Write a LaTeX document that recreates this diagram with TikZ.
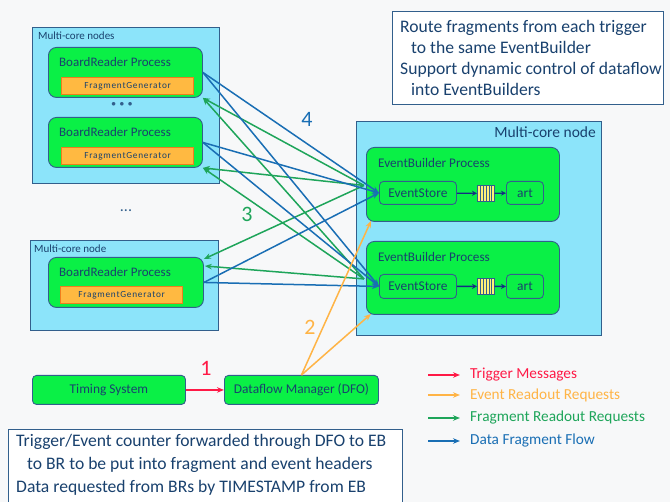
\documentclass[tikz,border=0pt]{standalone}
\usepackage{fontspec}
\setmainfont{Carlito}
\newfontfamily\fgfont[LetterSpace=8]{Carlito}
\usetikzlibrary{arrows.meta,calc}
\definecolor{bg}{RGB}{247,248,249}
\definecolor{boxblue}{RGB}{140,228,250}
\definecolor{edge}{RGB}{50,95,140}
\definecolor{procgreen}{RGB}{10,240,70}
\definecolor{fgfill}{RGB}{255,185,65}
\definecolor{fgedge}{RGB}{240,125,30}
\definecolor{cblue}{RGB}{25,110,180}
\definecolor{cgreen}{RGB}{30,165,90}
\definecolor{corange}{RGB}{255,180,70}
\definecolor{cred}{RGB}{255,25,70}
\definecolor{txt}{RGB}{25,65,110}
\definecolor{qyellow}{RGB}{255,240,120}
\definecolor{qarrow}{RGB}{20,45,130}
\begin{document}
\begin{tikzpicture}[x=1pt,y=-1pt,
  hostbox/.style={draw=edge, fill=boxblue, line width=0.9pt, anchor=north west, inner sep=0pt},
  proc/.style={draw=edge, fill=procgreen, rounded corners=8pt, line width=0.9pt, anchor=north west, inner sep=0pt},
  smallproc/.style={draw=edge, fill=procgreen, rounded corners=4pt, line width=0.9pt, anchor=north west, inner sep=0pt, text=txt, font=\fontsize{13.4}{15}\selectfont},
  fgen/.style={draw=fgedge, fill=fgfill, line width=1.2pt, anchor=north west, inner sep=0pt, minimum width=132pt, minimum height=17pt, text=txt, font=\fgfont\fontsize{9.3}{10}\selectfont},
  lbl/.style={inner sep=0pt, text=txt},
  infobox/.style={draw=edge, fill=white, line width=0.9pt, anchor=north west, inner sep=0pt},
  infotext/.style={inner sep=0pt, anchor=north west, align=left, text=txt},
  tip/.style={-{Stealth[length=7pt,width=5.5pt]}},
  flowb/.style={tip, draw=cblue, line width=1.5pt},
  flowg/.style={tip, draw=cgreen, line width=1.5pt},
  flowo/.style={tip, draw=corange, line width=1.5pt},
  flowr/.style={tip, draw=cred, line width=1.5pt},
  qarr/.style={-{Stealth[length=5pt,width=5pt]}, draw=qarrow, line width=1.3pt},
  numlbl/.style={inner sep=0pt, font=\fontsize{22}{24}\selectfont},
  legtext/.style={inner sep=0pt, anchor=west, font=\fontsize{15.3}{17}\selectfont}
]
\useasboundingbox (0,0) rectangle (670,502);
\fill[bg] (0,0) rectangle (670,502);

% ---- left host boxes
\node[hostbox, minimum width=187pt, minimum height=156pt] (hostA) at (32,27) {};
\node[lbl, anchor=west, font=\fontsize{11}{12}\selectfont] (hostAl) at (38,36) {Multi-core nodes};
\node[proc, minimum width=154pt, minimum height=50pt] (br1) at (48,47) {};
\node[lbl, font=\fontsize{13}{14}\selectfont] (br1l) at (115,62) {BoardReader Process};
\node[fgen] (fg1) at (61,77) {FragmentGenerator};
\node[lbl, text=edge, font=\fontsize{9}{10}\selectfont] (dots1) at (122,104) {$\bullet\,\bullet\,\bullet$};
\node[proc, minimum width=154pt, minimum height=50pt] (br2) at (48,117) {};
\node[lbl, font=\fontsize{13}{14}\selectfont] (br2l) at (115,132) {BoardReader Process};
\node[fgen] (fg2) at (61,147) {FragmentGenerator};

\node[lbl, text=edge, font=\fontsize{16}{16}\selectfont] (dots2) at (126,211) {...};

\node[hostbox, minimum width=188pt, minimum height=90pt] (hostB) at (30,240) {};
\node[lbl, anchor=west, font=\fontsize{11}{12}\selectfont] (hostBl) at (34,249) {Multi-core node};
\node[proc, minimum width=155pt, minimum height=50pt] (br3) at (48,257) {};
\node[lbl, font=\fontsize{13}{14}\selectfont] (br3l) at (115,272) {BoardReader Process};
\node[fgen, minimum width=122pt] (fg3) at (60,286) {FragmentGenerator};

% ---- right host box
\node[hostbox, minimum width=245pt, minimum height=214pt] (hostC) at (356,121) {};
\node[lbl, anchor=east, font=\fontsize{15.5}{17}\selectfont] (hostCl) at (596,132) {Multi-core node};

\node[proc, minimum width=193pt, minimum height=74pt] (eb1) at (366,147) {};
\node[lbl, anchor=west, font=\fontsize{13.2}{14}\selectfont] (eb1l) at (378,163) {EventBuilder Process};
\node[smallproc, minimum width=77pt, minimum height=23pt] (es1) at (379,181) {EventStore};
\node[draw=edge, fill=qyellow, line width=0.7pt, anchor=north west, inner sep=0pt, minimum width=17pt, minimum height=16pt] (q1) at (477,185) {};
\node[smallproc, minimum width=37pt, minimum height=23pt] (art1) at (506,181) {art};

\node[proc, minimum width=193pt, minimum height=73pt] (eb2) at (366,241) {};
\node[lbl, anchor=west, font=\fontsize{13.2}{14}\selectfont] (eb2l) at (378,257) {EventBuilder Process};
\node[smallproc, minimum width=77pt, minimum height=24pt] (es2) at (379,274) {EventStore};
\node[draw=edge, fill=qyellow, line width=0.7pt, anchor=north west, inner sep=0pt, minimum width=17pt, minimum height=16pt] (q2) at (477,278) {};
\node[smallproc, minimum width=37pt, minimum height=24pt] (art2) at (506,274) {art};

\foreach \q in {q1,q2}{
  \foreach \k in {1,...,5}{
    \draw[edge, line width=0.6pt] ($(\q.north west)!\k/6!(\q.north east)$) -- ($(\q.south west)!\k/6!(\q.south east)$);
  }
}
\draw[qarr] (es1) -- (q1);
\draw[qarr] (q1) -- (art1);
\draw[qarr] (es2) -- (q2);
\draw[qarr] (q2) -- (art2);

% ---- timing and DFO
\node[smallproc, minimum width=153pt, minimum height=29pt] (timing) at (32,375) {Timing System};
\node[smallproc, minimum width=154pt, minimum height=29pt] (dfo) at (224,375) {Dataflow Manager (DFO)};

% ---- info boxes
\node[infobox, minimum width=271pt, minimum height=93pt] (info1) at (392,11) {};
\node[infotext, font=\fontsize{17.6}{21}\selectfont] (info1t) at (400,20) {Route fragments from each trigger\\\hspace*{11pt}to the same EventBuilder\\Support dynamic control of dataflow\\\hspace*{11pt}into EventBuilders};
\node[infobox, minimum width=394pt, minimum height=80pt] (info2) at (8,429) {};
\node[infotext, font=\fontsize{17.6}{23}\selectfont] (info2t) at (16,434) {Trigger/Event counter forwarded through DFO to EB\\\hspace*{11pt}to BR to be put into fragment and event headers\\Data requested from BRs by TIMESTAMP from EB};

% ---- connectors
\coordinate (g1s) at ($(eb1.west)+(-2,1)$);
\coordinate (g2s) at ($(eb2.west)+(-2,1)$);
% green: fragment readout requests (EB -> BR)
\draw[flowg] (g1s) -- (br1.south east);
\draw[flowg] (g2s) -- (br1.south east);
\draw[flowg] (g1s) -- (br2.south east);
\draw[flowg] (g2s) -- (br2.south east);
\draw[flowg] (g1s) -- ($(br3.north east)+(0,2)$);
\draw[flowg] (g2s) -- ($(br3.north east)+(1,9)$);
% blue: data fragment flow (BR -> EB)
\draw[flowb] (br1.east) -- (es1.west);
\draw[flowb] (br1.east) -- (es2.west);
\draw[flowb] (br2.east) -- (es1.west);
\draw[flowb] (br2.east) -- (es2.west);
\draw[flowb] (br3.east) -- (es1.west);
\draw[flowb] (br3.east) -- (es2.west);
% orange: event readout requests (DFO -> EB)
\draw[flowo] (dfo.north) -- ($(eb1.south west)+(5,-1)$);
\draw[flowo] (dfo.north) -- ($(eb2.south west)+(5,-1)$);
% red: trigger
\draw[flowr] (timing) -- (dfo);

\node[numlbl, text=cblue] (n4) at (307,119) {4};
\node[numlbl, text=cgreen] (n3) at (247,214) {3};
\node[numlbl, text=corange] (n2) at (310,327) {2};
\node[numlbl, text=cred] (n1) at (206,368) {1};

% ---- legend
\coordinate (la1) at (428,375); \coordinate (lb1) at (460,375);
\coordinate (la2) at (428,395); \coordinate (lb2) at (460,395);
\coordinate (la3) at (428,418); \coordinate (lb3) at (460,418);
\coordinate (la4) at (428,441); \coordinate (lb4) at (460,441);
\draw[flowr, line width=1.3pt] (la1) -- (lb1);
\draw[flowo, line width=1.3pt] (la2) -- (lb2);
\draw[flowg, line width=1.3pt] (la3) -- (lb3);
\draw[flowb, line width=1.3pt] (la4) -- (lb4);
\node[legtext, text=cred] (lt1) at (470,375) {Trigger Messages};
\node[legtext, text=corange] (lt2) at (470,395) {Event Readout Requests};
\node[legtext, text=cgreen] (lt3) at (470,418) {Fragment Readout Requests};
\node[legtext, text=cblue] (lt4) at (470,441) {Data Fragment Flow};
\end{tikzpicture}
\end{document}
